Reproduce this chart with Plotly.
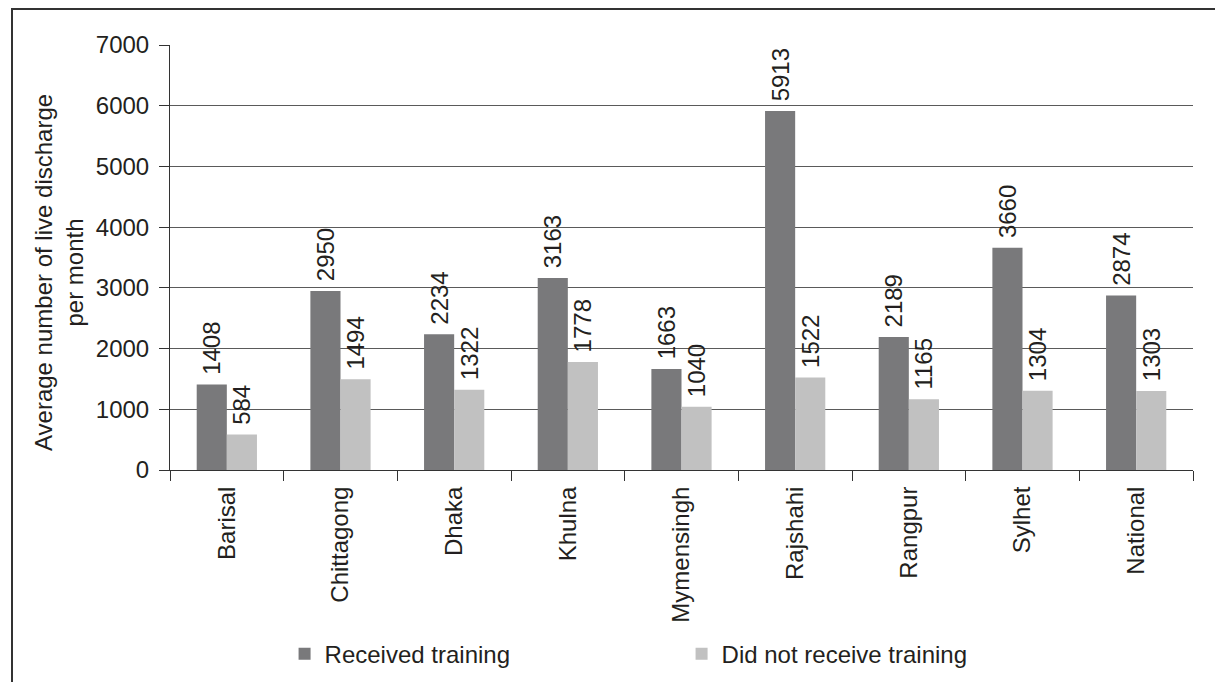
import plotly.graph_objects as go

# Divisions of Bangladesh plus the national average
divisions = ["Barisal", "Chittagong", "Dhaka", "Khulna", "Mymensingh",
             "Rajshahi", "Rangpur", "Sylhet", "National"]
received_training = [1408, 2950, 2234, 3163, 1663, 5913, 2189, 3660, 2874]
no_training = [584, 1494, 1322, 1778, 1040, 1522, 1165, 1304, 1303]
y_ticks = [0, 1000, 2000, 3000, 4000, 5000, 6000, 7000]

FONT = "Liberation Sans, Arial, sans-serif"
TEXT = "#231f20"
SIZE = 24

# A leading non-breaking space lifts the rotated value labels off the bar tops
PAD = "\u00a0"

fig = go.Figure()
fig.add_trace(go.Bar(
    name="Received training", x=divisions, y=received_training,
    marker=dict(color="#79797b", line=dict(width=0)),
    text=[PAD + str(v) for v in received_training], textposition="outside",
    textangle=-90, constraintext="none", cliponaxis=False,
    textfont=dict(family=FONT, size=SIZE, color=TEXT),
))
fig.add_trace(go.Bar(
    name="Did not receive training", x=divisions, y=no_training,
    marker=dict(color="#c1c1c1", line=dict(width=0)),
    text=[PAD + str(v) for v in no_training], textposition="outside",
    textangle=-90, constraintext="none", cliponaxis=False,
    textfont=dict(family=FONT, size=SIZE, color=TEXT),
))

fig.update_layout(
    width=1215, height=682,
    margin=dict(l=170, r=22, t=45, b=212, autoexpand=False),
    paper_bgcolor="white", plot_bgcolor="white",
    font=dict(family=FONT, size=SIZE, color=TEXT),
    barmode="group", bargap=0.47, bargroupgap=0,
    showlegend=True,
    legend=dict(
        orientation="h", x=0.112, xanchor="left", y=-0.433, yanchor="middle",
        entrywidth=352, entrywidthmode="pixels",
        font=dict(family=FONT, size=SIZE, color=TEXT),
        bgcolor="rgba(0,0,0,0)",
    ),
    xaxis=dict(
        type="category", tickangle=-90, tickson="boundaries",
        ticks="outside", ticklen=10, tickcolor="#333", tickwidth=1,
        ticklabelstandoff=6, automargin=False,
        showline=True, linecolor="#333", linewidth=1,
        showgrid=False, tickfont=dict(family=FONT, size=SIZE, color=TEXT),
    ),
    yaxis=dict(
        range=[0, 7000], tickvals=y_ticks, ticktext=[str(v) for v in y_ticks],
        ticks="outside", ticklen=10, tickcolor="#333", tickwidth=1,
        ticklabelstandoff=5, automargin=False,
        showline=True, linecolor="#333", linewidth=1,
        showgrid=True, gridcolor="#5a5a5a", gridwidth=1,
        zeroline=False,
        tickfont=dict(family=FONT, size=SIZE, color=TEXT),
    ),
)

# Y-axis title, set slightly below the plot's vertical centre
fig.add_annotation(
    text="Average number of live discharge<br>per month",
    xref="paper", yref="paper", x=(59 - 170) / 1023, y=(470 - 273) / 425,
    xanchor="center", yanchor="middle", textangle=-90, showarrow=False,
    font=dict(family=FONT, size=SIZE, color=TEXT),
)

# Frame around the whole figure
fig.add_shape(type="rect", xref="paper", yref="paper",
              x0=-158 / 1023, x1=1.05, y0=-0.6, y1=(470 - 9) / 425,
              line=dict(color="#333", width=2), layer="below")

fig.write_html("out.html")
